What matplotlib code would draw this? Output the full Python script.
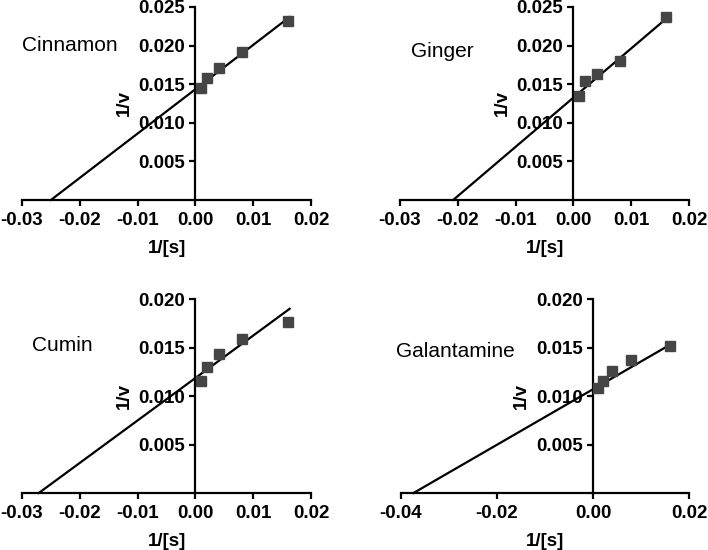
import matplotlib
matplotlib.use("Agg")
import matplotlib.pyplot as plt
import numpy as np

plt.rcParams['font.family'] = ['Liberation Sans', 'DejaVu Sans']

# 1/[s] values, same for every panel
inv_s = [0.001, 0.002, 0.004, 0.008, 0.016]

names = ["Cinnamon", "Ginger", "Cumin", "Galantamine"]

# 1/v
cinnamon = [0.01457, 0.01578, 0.01709, 0.01913, 0.02313]
ginger = [0.01348, 0.01535, 0.01630, 0.01796, 0.02374]
cumin = [0.01158, 0.01296, 0.01436, 0.01591, 0.01759]
galantamine = [0.01082, 0.01151, 0.01261, 0.01375, 0.01512]

# fitted line: x intercept (-1/Km) and y intercept (1/Vmax)
x_icept = [-0.0250, -0.0208, -0.0271, -0.0374]
y_icept = [0.01435, 0.01326, 0.01186, 0.01070]
line_end = [0.0163, 0.0162, 0.0163, 0.0165]

# axis settings
xlims = [(-0.03, 0.02), (-0.03, 0.02), (-0.03, 0.02), (-0.04, 0.02)]
xticks = [[-0.03, -0.02, -0.01, 0.0, 0.01, 0.02]] * 3 + [[-0.04, -0.02, 0.0, 0.02]]
ytop = [0.025, 0.025, 0.020, 0.020]
yticks = [[0.005, 0.010, 0.015, 0.020, 0.025]] * 2 + [[0.005, 0.010, 0.015, 0.020]] * 2

all_y = [cinnamon, ginger, cumin, galantamine]

# axes boxes [left, bottom, width, height] in figure fraction
boxes = [
    [0.0311, 0.6364, 0.4082, 0.3509],
    [0.5650, 0.6364, 0.4082, 0.3509],
    [0.0311, 0.1036, 0.4082, 0.3527],
    [0.5664, 0.1036, 0.4068, 0.3527],
]
name_pos = [(0.0, 0.80), (0.038, 0.77), (0.035, 0.76), (-0.017, 0.73)]

fig = plt.figure(figsize=(7.08, 5.5), dpi=100)

for i in range(4):
    ax = fig.add_axes(boxes[i])
    ax.set_xlim(*xlims[i])
    ax.set_ylim(0, ytop[i])

    # data points
    ax.plot(inv_s, all_y[i], 's', color='#454545', markersize=6.5, clip_on=False, zorder=3)

    # regression line from x-intercept to the last point
    slope = y_icept[i] / (-x_icept[i])
    xs = np.array([x_icept[i], line_end[i]])
    ax.plot(xs, y_icept[i] + slope * xs, color='black', linewidth=1.6, clip_on=False)

    # axes crossing at zero
    ax.spines['left'].set_position(('data', 0))
    ax.spines['bottom'].set_position(('data', 0))
    ax.spines['top'].set_visible(False)
    ax.spines['right'].set_visible(False)
    ax.spines['left'].set_linewidth(1.6)
    ax.spines['bottom'].set_linewidth(1.6)

    ax.set_xticks(xticks[i])
    ax.set_xticklabels(["%.2f" % t for t in xticks[i]])
    ax.set_yticks(yticks[i])
    ax.set_yticklabels(["%.3f" % t for t in yticks[i]])
    ax.tick_params(direction='out', length=4, width=1.6, labelsize=13.5)
    ax.tick_params(axis='x', pad=4.5)
    for lab in ax.get_xticklabels() + ax.get_yticklabels():
        lab.set_fontweight('bold')

    ax.set_xlabel("1/[s]", fontsize=13.5, fontweight='bold', labelpad=8)
    ax.set_ylabel("1/v", fontsize=13.5, fontweight='bold', labelpad=4)

    ax.text(name_pos[i][0], name_pos[i][1], names[i], transform=ax.transAxes,
            fontsize=15, ha='left', va='center')
    ax.patch.set_alpha(0)

fig.savefig("out.png", dpi=100)
